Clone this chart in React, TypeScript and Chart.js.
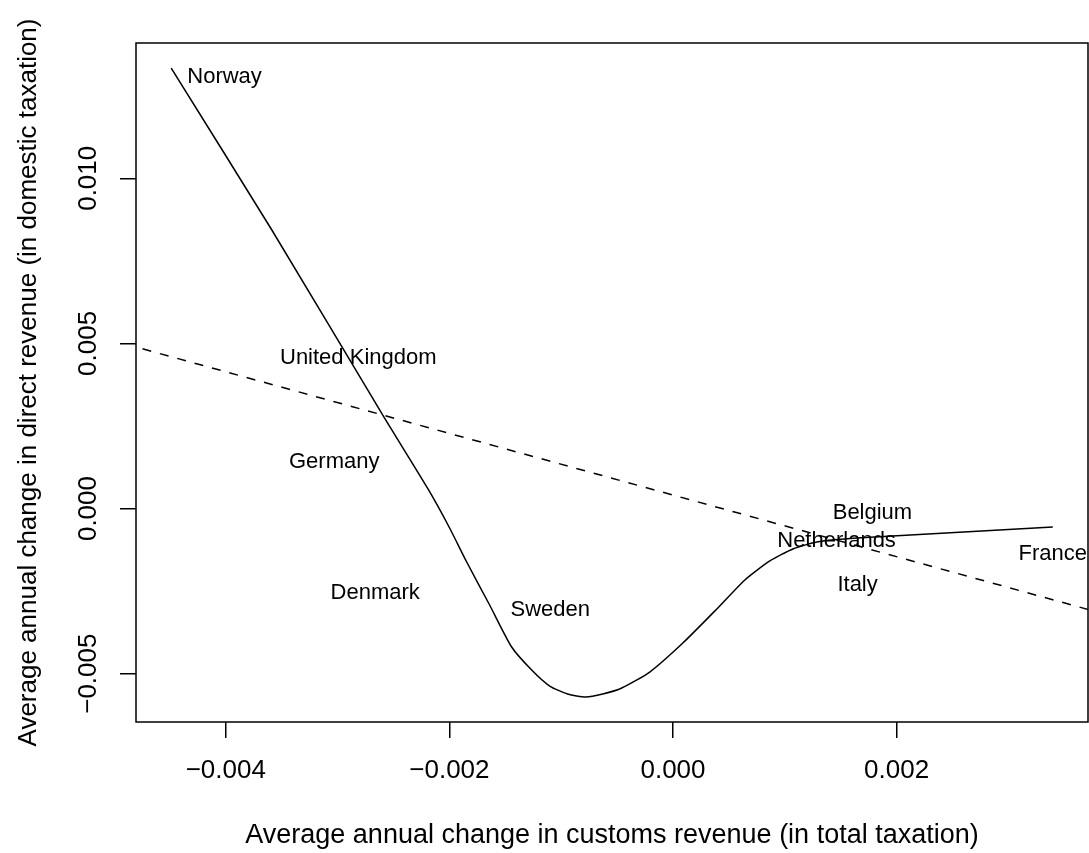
import { useEffect, useRef } from 'react';
import { Chart, registerables } from 'chart.js';

Chart.register(...registerables);

const FONT = '"Liberation Sans", Arial, Helvetica, sans-serif';

// Country labels (drawn centred on their data points)
const countries = ['Norway', 'United Kingdom', 'Germany', 'Denmark', 'Sweden', 'Belgium', 'Netherlands', 'Italy', 'France'];
const countryX = [-0.004011, -0.002815, -0.00303, -0.002664, -0.001098, 0.001784, 0.001463, 0.001651, 0.003397];
const countryY = [0.013061, 0.00455, 0.001419, -0.002557, -0.003072, -0.000129, -0.000976, -0.002299, -0.001382];

// Smoothed (solid) curve
const smoothX = [
  -0.004488, -0.003588, -0.002597, -0.002186, -0.001998, -0.001845, -0.00164, -0.001443,
  -0.001264, -0.001103, -0.000942, -0.000781, -0.000628, -0.000458, -0.000208, 0.000088,
  0.000392, 0.000643, 0.000866, 0.001072, 0.001287, 0.001645, 0.003397,
];
const smoothY = [
  0.013335, 0.008434, 0.002833, 0.000562, -0.000589, -0.001619, -0.002921, -0.004193,
  -0.00489, -0.005374, -0.005616, -0.005707, -0.005616, -0.005434, -0.00495, -0.004072,
  -0.003041, -0.002163, -0.001588, -0.001224, -0.001015, -0.000895, -0.000562,
];

// Linear fit (dashed) line, end points
const fitX = [-0.0049, 0.0038];
const fitY = [0.004981, -0.003137];

// Axes
const xTicks = [-0.004, -0.002, 0, 0.002];
const yTicks = [-0.005, 0, 0.005, 0.01];
const xLimits = [-0.004803, 0.003712];
const yLimits = [-0.006463, 0.014096];

const xTitle = 'Average annual change in customs revenue (in total taxation)';
const yTitle = 'Average annual change in direct revenue (in domestic taxation)';

const fmt = (v: number) => (v < -1e-12 ? '\u2212' : '') + Math.abs(v).toFixed(3);

const labelPlugin = {
  id: 'countryLabels',
  beforeDatasetsDraw(chart: any) {
    const meta = chart.getDatasetMeta(2);
    const ctx = chart.ctx;
    ctx.save();
    ctx.font = `22px ${FONT}`;
    ctx.fillStyle = '#000';
    ctx.textAlign = 'center';
    ctx.textBaseline = 'middle';
    meta.data.forEach((pt: any, i: number) => {
      ctx.fillText(countries[i], pt.x, pt.y);
    });
    ctx.restore();
  },
};

const boxPlugin = {
  id: 'plotBox',
  afterDraw(chart: any) {
    const { left, top, right, bottom } = chart.chartArea;
    const ctx = chart.ctx;
    ctx.save();
    ctx.strokeStyle = '#000';
    ctx.lineWidth = 1.5;
    ctx.strokeRect(left, top, right - left, bottom - top);
    ctx.restore();
  },
};

export default function App() {
  const ref = useRef<HTMLCanvasElement | null>(null);

  useEffect(() => {
    document.body.style.margin = '0';
    const canvas = ref.current;
    if (!canvas) return;
    Chart.defaults.font.family = FONT;
    Chart.defaults.color = '#000';

    const chart = new Chart(canvas, {
      type: 'scatter',
      data: {
        datasets: [
          {
            data: smoothX.map((x, i) => ({ x, y: smoothY[i] })),
            showLine: true,
            borderColor: '#000',
            borderWidth: 1.5,
            pointRadius: 0,
            tension: 0.2,
          },
          {
            data: fitX.map((x, i) => ({ x, y: fitY[i] })),
            showLine: true,
            borderColor: '#000',
            borderWidth: 1.5,
            borderDash: [9, 9],
            pointRadius: 0,
          },
          {
            data: countryX.map((x, i) => ({ x, y: countryY[i] })),
            showLine: false,
            pointRadius: 0,
          },
        ],
      } as any,
      options: {
        responsive: false,
        animation: false,
        devicePixelRatio: 1,
        layout: { padding: { left: 0, top: 43, right: 1, bottom: 0 } },
        plugins: { legend: { display: false }, tooltip: { enabled: false } },
        scales: {
          x: {
            type: 'linear',
            min: xLimits[0],
            max: xLimits[1],
            afterBuildTicks: (s: any) => {
              s.ticks = xTicks.map((v) => ({ value: v }));
            },
            afterFit: (s: any) => {
              s.height = 131;
            },
            ticks: {
              autoSkip: false,
              maxRotation: 0,
              minRotation: 0,
              padding: 17,
              color: '#000',
              font: { size: 26, family: FONT },
              callback: (v: any) => fmt(Number(v)),
            },
            grid: {
              display: true,
              drawOnChartArea: false,
              drawTicks: true,
              tickLength: 16,
              color: '#000',
              lineWidth: 1.5,
            },
            border: { display: false },
            title: {
              display: true,
              text: xTitle,
              color: '#000',
              font: { size: 27, family: FONT },
              padding: { top: 0, bottom: 1 },
            },
          },
          y: {
            type: 'linear',
            min: yLimits[0],
            max: yLimits[1],
            afterBuildTicks: (s: any) => {
              s.ticks = yTicks.map((v) => ({ value: v }));
            },
            afterFit: (s: any) => {
              s.width = 136;
            },
            ticks: {
              autoSkip: false,
              minRotation: 90,
              maxRotation: 90,
              crossAlign: 'center',
              padding: -8.6,
              color: '#000',
              font: { size: 26, family: FONT },
              callback: (v: any) => fmt(Number(v)),
            },
            grid: {
              display: true,
              drawOnChartArea: false,
              drawTicks: true,
              tickLength: 16,
              color: '#000',
              lineWidth: 1.5,
            },
            border: { display: false },
            title: {
              display: true,
              text: yTitle,
              color: '#000',
              font: { size: 26, family: FONT },
              padding: { top: 13, bottom: 0 },
            },
          },
        },
      } as any,
      plugins: [labelPlugin, boxPlugin],
    });

    return () => {
      chart.destroy();
    };
  }, []);

  return <canvas ref={ref} width={1089} height={853} style={{ display: 'block' }} />;
}
